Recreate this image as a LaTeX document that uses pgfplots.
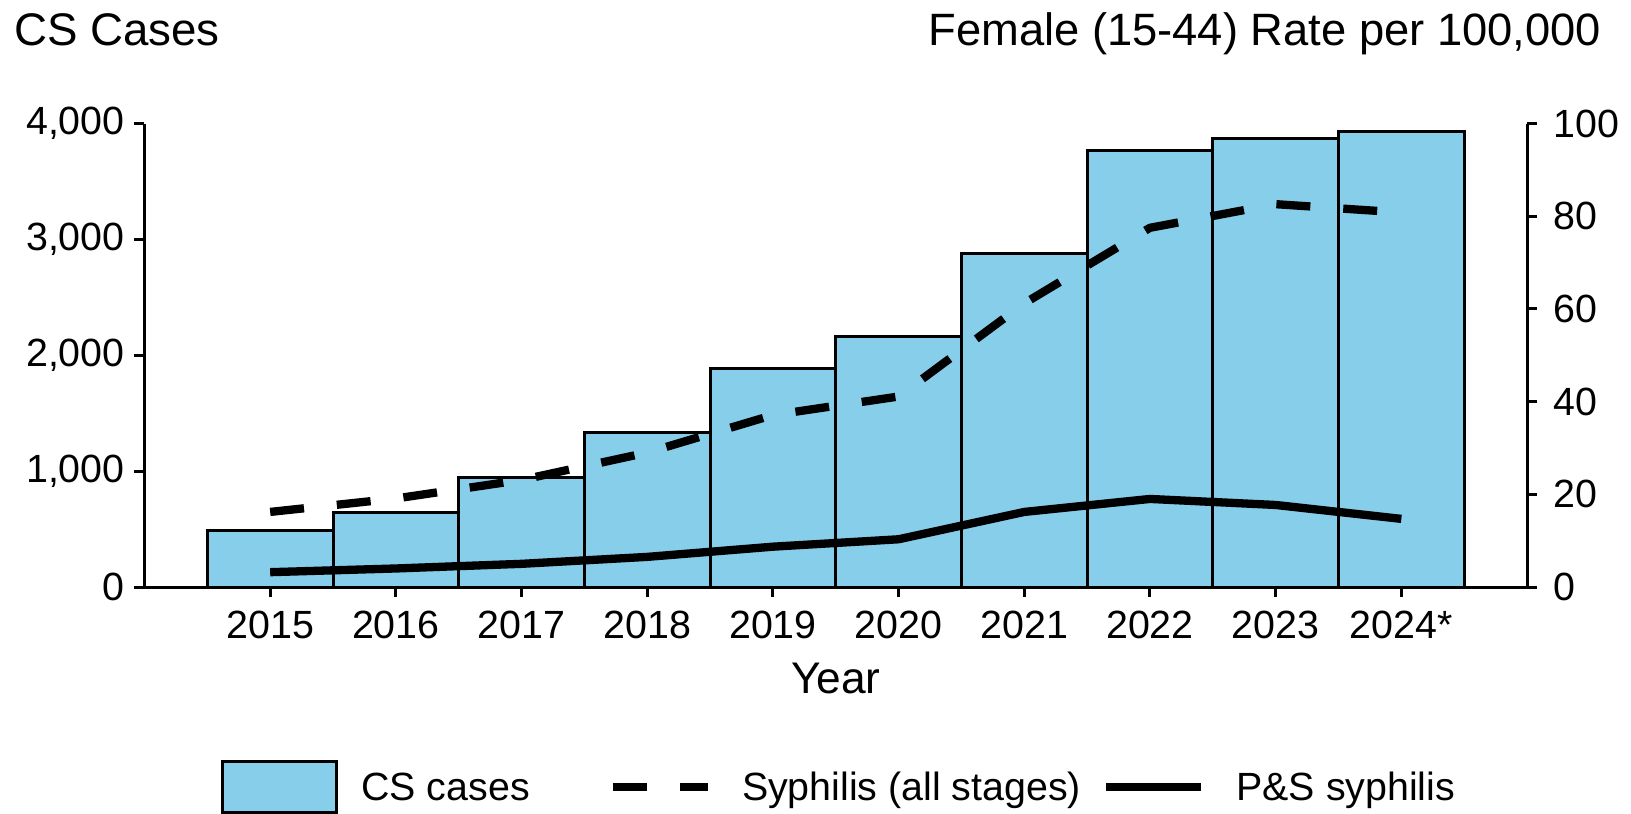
\documentclass[border=0pt]{standalone}
\usepackage{fontspec}
\setmainfont{Liberation Sans}
\usepackage{pgfplots}
\pgfplotsset{compat=1.18}
\definecolor{skyblue}{RGB}{135,206,235}
\begin{document}
\fontsize{11.2pt}{13pt}\selectfont
\begin{tikzpicture}
\useasboundingbox (-14.45mm,-22.6mm) rectangle (148.65mm,58.7mm);
\clip (-14.45mm,-22.6mm) rectangle (148.65mm,58.7mm);
\begin{axis}[
  scale only axis, width=138.25mm, height=46.35mm,
  at={(0,0)}, anchor=south west,
  xmin=-1, xmax=10, ymin=0, ymax=4000,
  axis x line*=bottom, axis y line*=left,
  axis line style={line width=0.3mm, -},
  xtick={0,1,2,3,4,5,6,7,8,9},
  xticklabels={2015,2016,2017,2018,2019,2020,2021,2022,2023,2024*},
  ytick={0,1000,2000,3000,4000},
  scaled y ticks=false,
  yticklabel style={/pgf/number format/1000 sep={,}, xshift=0.4mm},
  /pgf/number format/assume math mode=true,
  tick align=outside, major tick length=1mm,
  tick style={line width=0.3mm, black},
  xlabel={Year},
  xlabel style={font=\fontsize{12.6pt}{15pt}\selectfont, at={(axis description cs:0.5,0)}, anchor=base, yshift=-10.6mm, inner sep=0pt},
  legend image code/.code={\draw[#1] (0mm,0.4mm) -- (9.5mm,0.4mm);},
  legend columns=3,
  legend cell align=left,
  legend style={draw=none, fill=none, inner sep=0pt, outer sep=0pt,
    at={(0.5,0)}, anchor=center, yshift=-20mm, xshift=0.25mm,
    nodes={inner sep=0pt, text height=0.75em, text depth=0.25em},
    column sep=0pt,
    /tikz/column 1/.style={column sep=2.3mm},
    /tikz/column 2/.style={column sep=7.9mm},
    /tikz/column 3/.style={column sep=3.0mm},
    /tikz/column 4/.style={column sep=2.1mm},
    /tikz/column 5/.style={column sep=3.1mm}},
]
\addplot[ybar, bar width=1, fill=skyblue, draw=black, line width=0.3mm,
  legend image code/.code={\draw[draw=black, line width=0.3mm, fill=skyblue] (0mm,-2.15mm) rectangle (11.4mm,2.95mm);}]
  coordinates {(0,492) (1,641) (2,946) (3,1331) (4,1887) (5,2166) (6,2879) (7,3771) (8,3871) (9,3934)};
\addlegendentry{CS cases}
\addlegendimage{black, line width=0.83mm, dash pattern=on 3.4mm off 3.3mm}
\addlegendentry{Syphilis (all stages)}
\addlegendimage{black, line width=0.83mm}
\addlegendentry{P\&S syphilis}
\end{axis}
\begin{axis}[
  scale only axis, width=138.25mm, height=46.35mm,
  at={(0,0)}, anchor=south west,
  xmin=-1, xmax=10, ymin=0, ymax=100,
  axis x line=none, axis y line*=right,
  axis line style={line width=0.3mm, -},
  ytick={0,20,40,60,80,100},
  yticklabel style={xshift=0.3mm},
  /pgf/number format/assume math mode=true,
  tick align=outside, major tick length=1mm,
  tick style={line width=0.3mm, black},
]
\addplot[black, line width=0.83mm, line join=round, dash pattern=on 3.4mm off 3.3mm]
  coordinates {(0,16.2) (1,19.1) (2,23.1) (3,29.0) (4,37.1) (5,41.1) (6,61.2) (7,77.5) (8,82.6) (9,80.8)};
\addplot[black, line width=0.83mm, line join=round]
  coordinates {(0,3.2) (1,4.0) (2,5.0) (3,6.5) (4,8.7) (5,10.3) (6,16.2) (7,19.0) (8,17.7) (9,14.7)};
\end{axis}
\node[anchor=base west, inner sep=0pt, font=\fontsize{13pt}{15pt}\selectfont] at (-13.1mm,54.2mm) {CS Cases};
\node[anchor=base east, inner sep=0pt, font=\fontsize{12.9pt}{15pt}\selectfont] at (145.75mm,54.2mm) {Female (15-44) Rate per 100,000};
\end{tikzpicture}
\end{document}
